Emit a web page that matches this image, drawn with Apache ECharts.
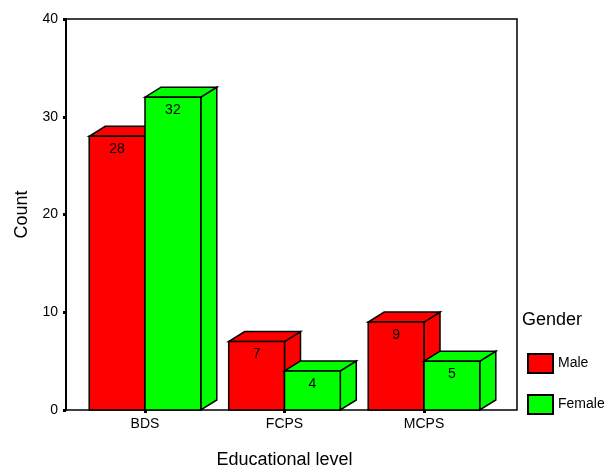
<!DOCTYPE html>
<html>
<head>
<meta charset="utf-8">
<script src="https://cdn.jsdelivr.net/npm/echarts@6/dist/echarts.min.js"></script>
<style>
  html, body { margin: 0; padding: 0; background: #fff; }
  #chart { width: 605px; height: 468px; }
</style>
</head>
<body>
<div id="chart"></div>
<script>
// data
const categories = ['BDS', 'FCPS', 'MCPS'];
const maleCounts = [28, 7, 9];
const femaleCounts = [32, 4, 5];
const yTicks = [0, 10, 20, 30, 40];

const FONT = '"Liberation Sans", Arial, sans-serif';
const DX = 16, DY = 10; // fake 3D depth

// side = 0 for the left bar in a group, 1 for the right one
const makeBox = (side, color) => (params, api) => {
  const idx = api.value(0);
  const val = api.value(1);
  const top = api.coord([idx, val]);
  const base = api.coord([idx, 0]);
  const w = api.size([1, 0])[0] * 0.4;
  const x0 = side === 0 ? top[0] - w : top[0];
  const x1 = x0 + w;
  const yt = top[1], yb = base[1];
  const st = { fill: color, stroke: '#000', lineWidth: 1.5 };
  return {
    type: 'group',
    children: [
      { type: 'polygon', shape: { points: [[x1, yb], [x1, yt], [x1 + DX, yt - DY], [x1 + DX, yb - DY]] }, style: st },
      { type: 'polygon', shape: { points: [[x0, yt], [x1, yt], [x1 + DX, yt - DY], [x0 + DX, yt - DY]] }, style: st },
      { type: 'rect', shape: { x: x0, y: yt, width: w, height: yb - yt }, style: st },
      { type: 'text', x: (x0 + x1) / 2, y: yt + 13,
        style: { text: String(val), fill: '#000', font: '14px ' + FONT, align: 'center', verticalAlign: 'middle' } }
    ]
  };
};

const chart = echarts.init(document.getElementById('chart'));
chart.setOption({
  animation: false,
  textStyle: { fontFamily: FONT },
  title: {
    text: 'Gender', left: 522, top: 311, padding: 0,
    textStyle: { fontSize: 18, fontWeight: 'normal', color: '#000', fontFamily: FONT }
  },
  legend: {
    orient: 'vertical', left: 527, top: 353, padding: 0,
    itemWidth: 25, itemHeight: 19, itemGap: 20,
    icon: 'rect',
    textStyle: { fontSize: 14, color: '#000', fontFamily: FONT },
    data: ['Male', 'Female']
  },
  grid: [
    { left: 66, top: 19, right: 88, bottom: 58, outerBoundsMode: 'none', containLabel: false,
      show: true, borderColor: '#000', borderWidth: 1.5, backgroundColor: 'transparent' },
    { left: 75.25, top: 19, width: 418.5, bottom: 58, outerBoundsMode: 'none', containLabel: false }
  ],
  xAxis: [
    { gridIndex: 0, type: 'value', min: 0, max: 1, show: false },
    {
      gridIndex: 1, type: 'category', data: categories,
      axisLine: { show: false },
      axisTick: { show: true, alignWithLabel: true, length: 3, lineStyle: { color: '#000', width: 3 } },
      axisLabel: { color: '#000', fontSize: 14, margin: 7, fontFamily: FONT },
      name: 'Educational level', nameLocation: 'middle', nameGap: 41,
      nameTextStyle: { color: '#000', fontSize: 18, fontFamily: FONT }
    }
  ],
  yAxis: [
    {
      gridIndex: 0, type: 'value', min: 0, max: 40, interval: 10,
      axisLine: { show: true, lineStyle: { color: '#000', width: 2 } },
      axisTick: { show: true, length: 3, lineStyle: { color: '#000', width: 3 } },
      splitLine: { show: false },
      axisLabel: { color: '#000', fontSize: 14, margin: 8, fontFamily: FONT,
        formatter: v => yTicks.includes(v) ? String(v) : '' },
      name: 'Count', nameLocation: 'middle', nameGap: 32,
      nameTextStyle: { color: '#000', fontSize: 18, fontFamily: FONT }
    },
    { gridIndex: 1, type: 'value', min: 0, max: 40, interval: 10, show: false }
  ],
  series: [
    {
      name: 'Male', type: 'custom', xAxisIndex: 1, yAxisIndex: 1,
      itemStyle: { color: '#ff0000', borderColor: '#000', borderWidth: 1 },
      renderItem: makeBox(0, '#ff0000'),
      data: maleCounts.map((v, i) => [i, v])
    },
    {
      name: 'Female', type: 'custom', xAxisIndex: 1, yAxisIndex: 1,
      itemStyle: { color: '#00ff00', borderColor: '#000', borderWidth: 1 },
      renderItem: makeBox(1, '#00ff00'),
      data: femaleCounts.map((v, i) => [i, v])
    }
  ]
});
</script>
</body>
</html>
